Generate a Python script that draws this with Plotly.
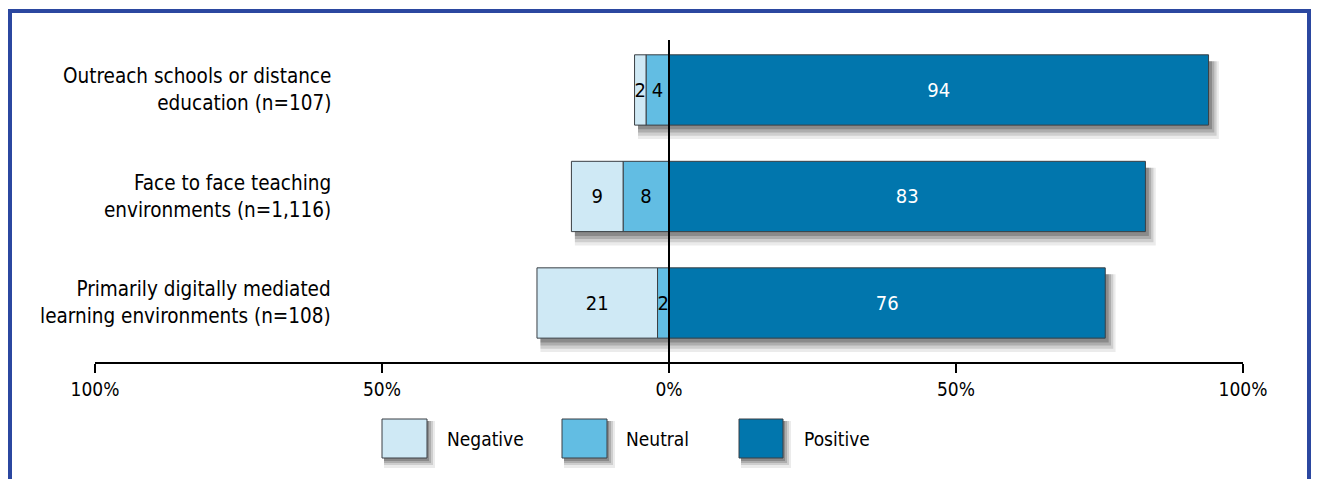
import plotly.graph_objects as go

categories = [
    "Outreach schools or distance<br>education (n=107)",
    "Face to face teaching<br>environments (n=1,116)",
    "Primarily digitally mediated<br>learning environments (n=108)",
]
negative = [2, 9, 21]
neutral = [4, 8, 2]
positive = [94, 83, 76]
tick_vals = [-100, -50, 0, 50, 100]
tick_text = ["100%", "50%", "0%", "50%", "100%"]
series_names = ["Negative", "Neutral", "Positive"]

FONT = "Liberation Sans Narrow, DejaVu Sans Condensed, Arial Narrow, sans-serif"
C_NEG = "#cfe9f5"
C_NEU = "#62bde3"
C_POS = "#0176ad"
EDGE = "#3a3f44"
FRAME = "#2b47a0"

ypos = list(range(len(categories)))
BW = 0.66

fig = go.Figure()
fig.add_trace(go.Bar(
    y=ypos, x=[-v for v in neutral], orientation="h", name="Neutral",
    marker=dict(color=C_NEU, line=dict(color=EDGE, width=1)), width=BW,
    text=[str(v) for v in neutral], textposition="inside", insidetextanchor="middle",
    constraintext="none", textfont=dict(color="black", size=20, family=FONT),
    showlegend=False, hoverinfo="skip"))
fig.add_trace(go.Bar(
    y=ypos, x=[-v for v in negative], orientation="h", name="Negative",
    marker=dict(color=C_NEG, line=dict(color=EDGE, width=1)), width=BW,
    text=[str(v) for v in negative], textposition="inside", insidetextanchor="middle",
    constraintext="none", textfont=dict(color="black", size=20, family=FONT),
    showlegend=False, hoverinfo="skip"))
fig.add_trace(go.Bar(
    y=ypos, x=positive, orientation="h", name="Positive",
    marker=dict(color=C_POS, line=dict(color=EDGE, width=1)), width=BW,
    text=[str(v) for v in positive], textposition="inside", insidetextanchor="middle",
    constraintext="none", textfont=dict(color="white", size=20, family=FONT),
    showlegend=False, hoverinfo="skip"))

shapes = []
# soft drop shadows derived from data
for i in ypos:
    left = -(negative[i] + neutral[i])
    right = positive[i]
    for dx, dy, op in [(1.8, 0.13, 0.08), (1.4, 0.10, 0.12), (1.0, 0.07, 0.16), (0.6, 0.04, 0.2)]:
        shapes.append(dict(type="rect", xref="x", yref="y", layer="below",
                           x0=left + 0.6, x1=right + dx, y0=i - BW / 2 + 0.06, y1=i + BW / 2 + dy,
                           fillcolor="black", opacity=op, line=dict(width=0)))
# zero line above bars
shapes.append(dict(type="line", xref="x", yref="paper", x0=0, x1=0, y0=0, y1=1,
                   line=dict(color="black", width=2), layer="above"))

# page-coordinate helpers (plot area spans page x 95..1243, y 40..362)
W, L = 1148.0, 95.0
PT, PB = 40.0, 362.0
def px(x):
    return (x - L) / W
def py(y):
    return (PB - y) / (PB - PT)

shapes.append(dict(type="path", xref="paper", yref="paper",
                   path=f"M {px(10)},{py(520)} L {px(10)},{py(11)} L {px(1309)},{py(11)} L {px(1309)},{py(520)}",
                   line=dict(color=FRAME, width=4)))

annotations = []
for i, c in enumerate(categories):
    annotations.append(dict(x=px(333), y=i, xref="paper", yref="y", text=c, showarrow=False,
                            xanchor="right", yanchor="middle", align="right",
                            font=dict(family=FONT, size=20.5, color="black")))

legend_items = [(382, 427, 445, C_NEG), (562, 607, 624, C_NEU), (739, 783, 802, C_POS)]
for (x0, x1, tx, col), name in zip(legend_items, series_names):
    for dx, dy, op in [(8, 10, 0.08), (6, 7, 0.12), (4, 5, 0.16), (2, 3, 0.2)]:
        shapes.append(dict(type="rect", xref="paper", yref="paper",
                           x0=px(x0 + 2), x1=px(x1 + dx), y0=py(458 + dy), y1=py(421),
                           fillcolor="black", opacity=op, line=dict(width=0)))
    shapes.append(dict(type="rect", xref="paper", yref="paper",
                       x0=px(x0), x1=px(x1), y0=py(458), y1=py(419),
                       fillcolor=col, line=dict(color=EDGE, width=1)))
    annotations.append(dict(x=px(tx), y=py(439), xref="paper", yref="paper", text=name,
                            showarrow=False, xanchor="left", yanchor="middle",
                            font=dict(family=FONT, size=19, color="black")))

# the page body has an 8px margin, so the figure is offset accordingly
fig.update_layout(
    width=1311, height=471,
    margin=dict(l=87, r=76, t=32, b=117),
    paper_bgcolor="white", plot_bgcolor="white",
    barmode="relative",
    showlegend=False,
    shapes=shapes, annotations=annotations,
    font=dict(family=FONT, size=20, color="black"),
    xaxis=dict(range=[-100, 100], tickvals=tick_vals, ticktext=tick_text,
               showgrid=False, zeroline=False, showline=True, linecolor="black", linewidth=2,
               ticks="outside", ticklen=9, tickwidth=2, tickcolor="black",
               tickfont=dict(family=FONT, size=19, color="black"), fixedrange=True),
    yaxis=dict(range=[2.554, -0.469], showticklabels=False, showgrid=False, zeroline=False,
               showline=False, ticks="", fixedrange=True),
)

fig.write_html("out.html")
